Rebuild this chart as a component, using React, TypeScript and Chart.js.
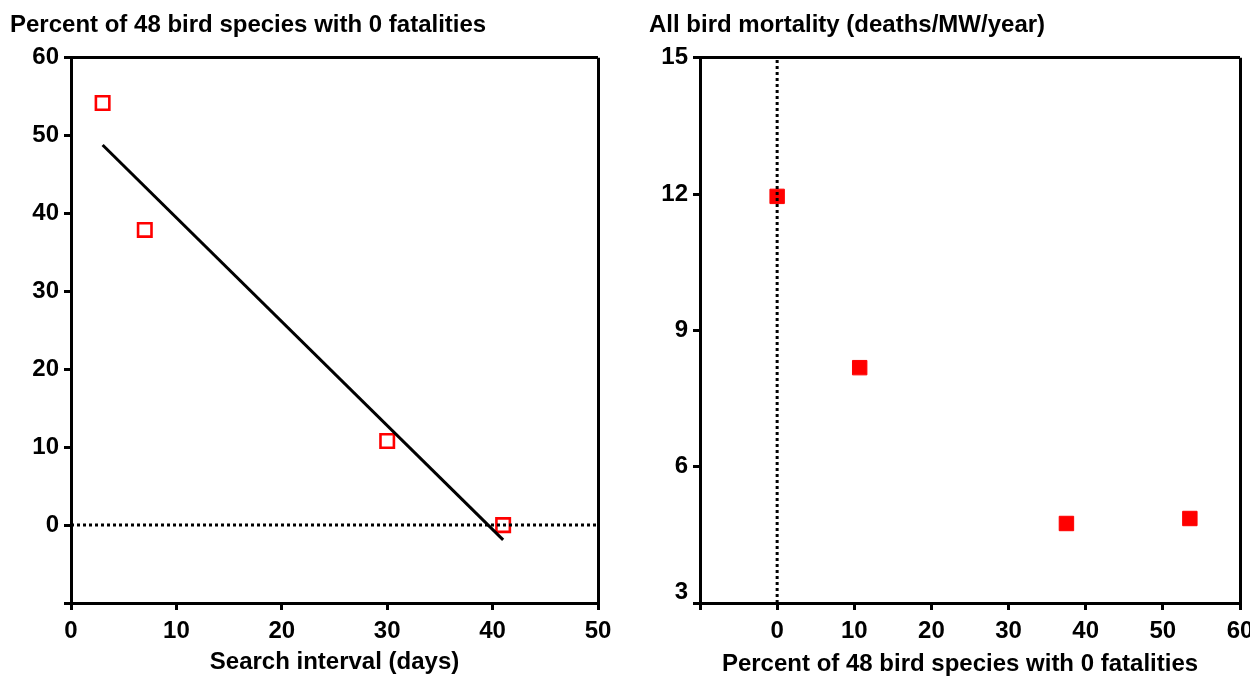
import React, { useEffect, useRef } from "react";
import { Chart, registerables } from "chart.js";

Chart.register(...registerables);

// ---- data ----
const leftTitle = "Percent of 48 bird species with 0 fatalities";
const leftXTitle = "Search interval (days)";
const searchInterval = [3, 7, 30, 41];
const pctZero = [54.2, 37.9, 10.8, 0];
const fitX = [3, 41];
const fitY = [48.8, -1.9];
const leftZeroLineX = [0, 50];
const leftZeroLineY = [0, 0];

const rightTitle = "All bird mortality (deaths/MW/year)";
const rightXTitle = "Percent of 48 bird species with 0 fatalities";
const pctZeroRight = [0, 10.7, 37.5, 53.5];
const mortality = [11.95, 8.18, 4.75, 4.86];
const rightZeroLineX = [0, 0];
const rightZeroLineY = [3, 15];

const FONT = "'Liberation Sans', Arial, sans-serif";
const RED = "#ff0000";
const FS = 24;

function zip(xs: number[], ys: number[]) {
  return xs.map((x, i) => ({ x, y: ys[i] }));
}

const tickFont = { family: FONT, size: FS, weight: "bold" as const };

function gridFor(edgeValue: number) {
  return {
    drawOnChartArea: true,
    color: (c: any) => (c.tick && c.tick.value === edgeValue ? "#000" : "rgba(0,0,0,0)"),
    lineWidth: 3,
    tickColor: "#000",
    tickLength: 7,
    tickWidth: 3,
  };
}

const border = { display: true, color: "#000", width: 3 };

function makeLeft(canvas: HTMLCanvasElement) {
  return new Chart(canvas, {
    type: "scatter",
    data: {
      datasets: [
        {
          data: zip(leftZeroLineX, leftZeroLineY),
          showLine: true,
          borderColor: "#000",
          borderWidth: 3,
          borderDash: [3, 3],
          pointRadius: 0,
        },
        {
          data: zip(fitX, fitY),
          showLine: true,
          borderColor: "#000",
          borderWidth: 3,
          pointRadius: 0,
        },
        {
          data: zip(searchInterval, pctZero),
          pointStyle: "rect",
          pointRadius: 9.5,
          pointBorderWidth: 2.6,
          pointBorderColor: RED,
          pointBackgroundColor: "#fff",
        },
      ],
    },
    options: {
      animation: false,
      responsive: false,
      layout: { padding: { left: 10, right: 27, top: 0, bottom: 0 } },
      plugins: {
        legend: { display: false },
        tooltip: { enabled: false },
        title: {
          display: true,
          text: leftTitle,
          align: "start",
          color: "#000",
          font: tickFont,
          padding: { top: 11, bottom: 18 },
        },
      },
      scales: {
        x: {
          type: "linear",
          min: 0,
          max: 50,
          border,
          ticks: { color: "#000", font: tickFont, stepSize: 10, padding: 7 },
          grid: gridFor(50),
          title: {
            display: true,
            text: leftXTitle,
            color: "#000",
            font: tickFont,
            padding: { top: 0, bottom: 2 },
          },
          afterFit: (s: any) => {
            s.height = 76;
          },
        },
        y: {
          type: "linear",
          min: -10,
          max: 60,
          border,
          ticks: {
            color: "#000",
            font: tickFont,
            stepSize: 10,
            padding: 5,
            callback: (v: any) => (v < 0 ? "" : String(v)),
          },
          grid: gridFor(60),
          afterFit: (s: any) => {
            s.width = 61;
          },
        },
      },
    },
  } as any);
}

function makeRight(canvas: HTMLCanvasElement) {
  return new Chart(canvas, {
    type: "scatter",
    data: {
      datasets: [
        {
          data: zip(rightZeroLineX, rightZeroLineY),
          showLine: true,
          borderColor: "#000",
          borderWidth: 3,
          borderDash: [3, 3],
          pointRadius: 0,
        },
        {
          data: zip(pctZeroRight, mortality),
          pointStyle: "rect",
          pointRadius: 10.2,
          pointBorderWidth: 1,
          pointBorderColor: RED,
          pointBackgroundColor: RED,
        },
      ],
    },
    options: {
      animation: false,
      responsive: false,
      layout: { padding: { left: 24, right: 25, top: 0, bottom: 0 } },
      plugins: {
        legend: { display: false },
        tooltip: { enabled: false },
        title: {
          display: true,
          text: rightTitle,
          align: "start",
          color: "#000",
          font: tickFont,
          padding: { top: 11, bottom: 18 },
        },
      },
      scales: {
        x: {
          type: "linear",
          min: -10,
          max: 60,
          border,
          ticks: {
            color: "#000",
            font: tickFont,
            stepSize: 10,
            padding: 7,
            callback: (v: any) => (v < 0 ? "" : String(v)),
          },
          grid: gridFor(60),
          title: {
            display: true,
            text: rightXTitle + "   ",
            color: "#000",
            font: tickFont,
            padding: { top: 0, bottom: 0 },
          },
          afterFit: (s: any) => {
            s.height = 76;
          },
        },
        y: {
          type: "linear",
          min: 3,
          max: 15,
          border,
          ticks: {
            color: "#000",
            font: { ...tickFont, lineHeight: 0.92 },
            stepSize: 3,
            padding: 5,
            callback: (v: any) => (v === 3 ? ["3", ""] : String(v)),
          },
          grid: gridFor(15),
          afterFit: (s: any) => {
            s.width = 51;
          },
        },
      },
    },
  } as any);
}

export default function App() {
  const leftRef = useRef<HTMLCanvasElement>(null);
  const rightRef = useRef<HTMLCanvasElement>(null);

  useEffect(() => {
    const a = makeLeft(leftRef.current!);
    const b = makeRight(rightRef.current!);
    return () => {
      a.destroy();
      b.destroy();
    };
  }, []);

  return (
    <div
      style={{
        position: "absolute",
        left: 0,
        top: 0,
        width: 1250,
        height: 679,
        overflow: "hidden",
        background: "#fff",
      }}
    >
      <canvas
        ref={leftRef}
        width={625}
        height={679}
        style={{ position: "absolute", left: 0, top: 0, width: 625, height: 679 }}
      />
      <canvas
        ref={rightRef}
        width={640}
        height={679}
        style={{ position: "absolute", left: 625, top: 0, width: 640, height: 679 }}
      />
    </div>
  );
}
